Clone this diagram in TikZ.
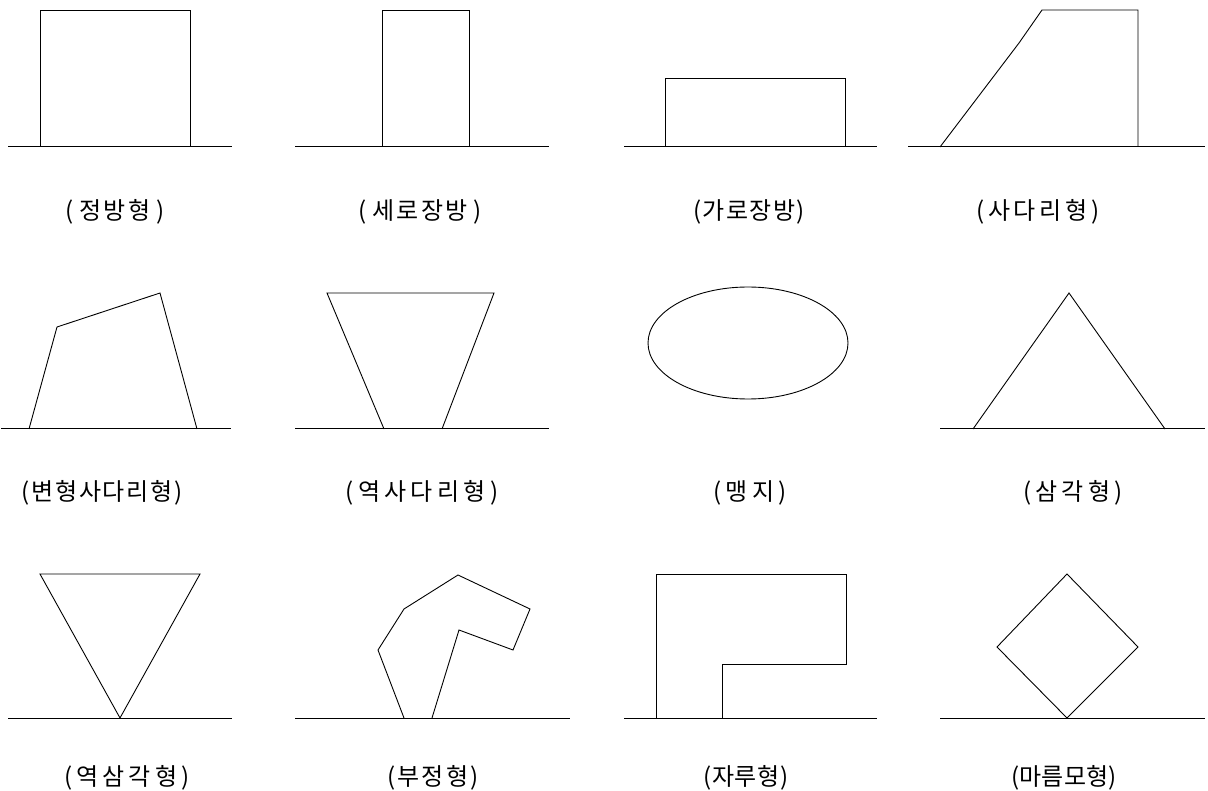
\documentclass[tikz,border=0pt]{standalone}
\usepackage{fontspec}
\newfontfamily\kr{Noto Sans CJK KR}
\begin{document}
\begin{tikzpicture}[x=1pt,y=-1pt,
  lot/.style={draw=black,line width=0.9pt,line join=miter},
  ground/.style={draw=black,line width=1pt},
  lbl/.style={font=\kr\fontsize{24pt}{24pt}\selectfont,inner sep=0pt,anchor=center}]
\useasboundingbox (0,0) rectangle (1208,791);
\fill[white] (0,0) rectangle (1208,791);
% ---------- row 1 ----------
\draw[ground] (8,147) -- (232,147);
\draw[lot] (40,147) -- (40,10) -- (190,10) -- (190,147);
\node[lbl] (l1) at (115,212) {\makebox[100pt]{(\hfill 정\hspace{2pt}방\hspace{2pt}형\hfill )}};

\draw[ground] (295,147) -- (549,147);
\draw[lot] (382,147) -- (382,10) -- (469,10) -- (469,147);
\node[lbl] (l2) at (420,212) {\makebox[124pt]{(\hfill 세\hspace{2pt}로\hspace{2pt}장\hspace{2pt}방\hfill )}};

\draw[ground] (624,147) -- (877,147);
\draw[lot] (665,147) -- (665,78) -- (845,78) -- (845,147);
\node[lbl] (l3) at (749,212) {\makebox[112pt]{(\hfill 가\hfill 로\hfill 장\hfill 방\hfill )}};

\draw[ground] (908,147) -- (1205,147);
\draw[lot] (940,147) -- (1019,43) -- (1042,10) -- (1138,10) -- (1138,147);
\node[lbl] (l4) at (1038,212) {\makebox[124pt]{(\hfill 사\hfill 다\hfill 리\hfill 형\hfill )}};
% ---------- row 2 ----------
\draw[ground] (1,429) -- (231,429);
\draw[lot] (29,429) -- (57,327) -- (160,293) -- (197,429);
\node[lbl] (l5) at (102,493) {\makebox[161pt]{(\hfill 변\hfill 형\hfill 사\hfill 다\hfill 리\hfill 형\hfill )}};

\draw[ground] (295,429) -- (549,429);
\draw[lot] (384,429) -- (327,293) -- (494,293) -- (442,429);
\node[lbl] (l6) at (422,493) {\makebox[153pt]{(\hfill 역\hfill 사\hfill 다\hfill 리\hfill 형\hfill )}};

\draw[lot] (748,343) ellipse [x radius=100, y radius=56];
\node[lbl] (l7) at (750,493) {\makebox[74pt]{(\hfill 맹\hfill 지\hfill )}};

\draw[ground] (940,429) -- (1205,429);
\draw[lot] (973,429) -- (1069,293) -- (1165,429);
\node[lbl] (l8) at (1073,493) {\makebox[100pt]{(\hfill 삼\hfill 각\hfill 형\hfill )}};
% ---------- row 3 ----------
\draw[ground] (8,718) -- (232,718);
\draw[lot] (120,718) -- (40,574) -- (200,574) -- cycle;
\node[lbl] (l9) at (127,778) {\makebox[126pt]{(\hfill 역\hspace{4pt}삼\hspace{4pt}각\hspace{4pt}형\hfill )}};

\draw[ground] (295,718) -- (570,718);
\draw[lot] (404,718) -- (378,650) -- (404,609) -- (458,575) -- (530,609) -- (513,650) -- (459,630) -- (432,718);
\node[lbl] (l10) at (433,778) {\makebox[91pt]{(\hfill 부\hfill 정\hfill 형\hfill )}};

\draw[ground] (624,718) -- (877,718);
\draw[lot] (656,718) -- (656,574) -- (846,574) -- (846,664) -- (722,664) -- (722,718);
\node[lbl] (l11) at (746,778) {\makebox[85pt]{(\hfill 자\hfill 루\hfill 형\hfill )}};

\draw[ground] (940,718) -- (1205,718);
\draw[lot] (1067,718) -- (997,647) -- (1067,574) -- (1138,647) -- cycle;
\node[lbl] (l12) at (1064,778) {\makebox[105pt]{(\hfill 마\hfill 름\hfill 모\hfill 형\hfill )}};
\end{tikzpicture}
\end{document}
